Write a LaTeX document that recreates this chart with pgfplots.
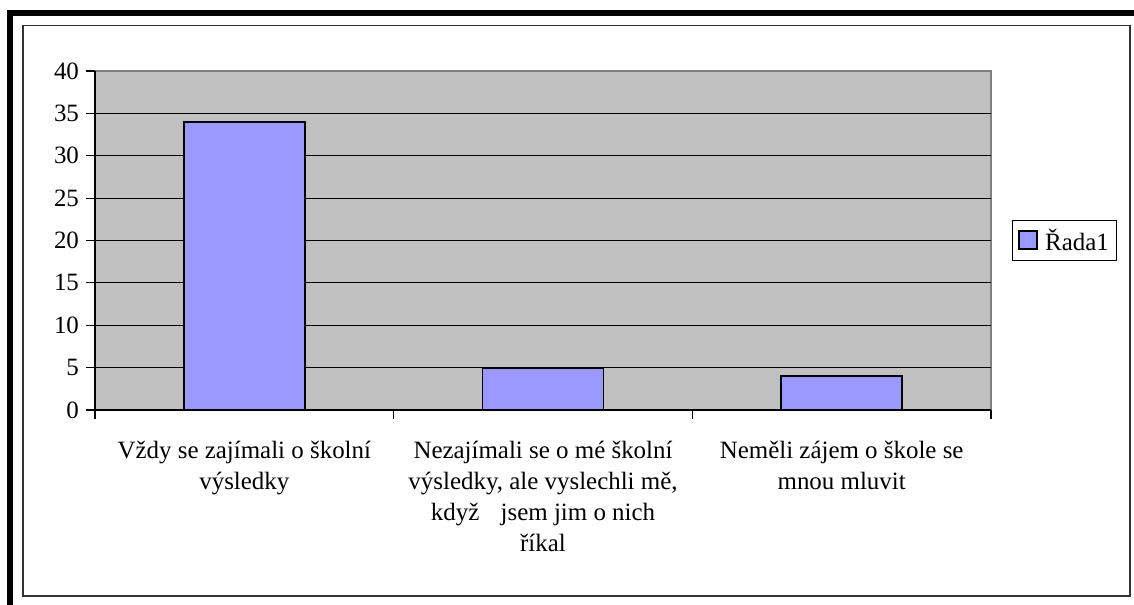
\documentclass[border=0pt]{standalone}
\usepackage{pgfplots}
\pgfplotsset{compat=1.18}
\usepackage{fontspec}
\setmainfont{Liberation Serif}
\definecolor{plotgray}{HTML}{C0C0C0}
\definecolor{barblue}{HTML}{9999FF}
\definecolor{bordergray}{HTML}{808080}
\begin{document}
\begin{tikzpicture}[x=1pt,y=1pt]
\useasboundingbox (0,0) rectangle (850.5,453.75);
\fill[white] (0,0) rectangle (850.5,453.75);
% outer heavy frame
\fill[black] (5.25,441.75) rectangle (850.5,446.25);
\fill[black] (5.25,0) rectangle (9.75,446.25);
% inner frame
\draw[black!80, line width=0.9pt] (17.25,6.75) rectangle (847.5,434.6);
\begin{axis}[
  at={(71.25pt,146.25pt)}, anchor=south west,
  scale only axis,
  width=672pt, height=254.25pt,
  xmin=0, xmax=3, ymin=0, ymax=40,
  axis background/.style={fill=plotgray, draw=bordergray, line width=1.3pt},
  axis x line=bottom, axis y line=left,
  axis line style={-, black, line width=0.8pt},
  ytick={5,10,...,35},
  extra y ticks={0,40},
  extra y tick style={grid=none},
  ymajorgrids,
  major grid style={black, line width=0.6pt},
  xtick={0,1,2,3},
  xticklabels={},
  extra x ticks={0.5,1.5,2.5},
  extra x tick style={major tick length=0pt, grid=none},
  extra x tick labels={
    {Vždy se zajímali o školní\\výsledky},
    {Nezajímali se o mé školní\\výsledky, ale vyslechli mě,\\když\hspace{16pt}jsem jim o nich\\říkal},
    {Neměli zájem o škole se\\mnou mluvit}},
  tick align=outside,
  major tick length=6.5pt,
  tick style={black, line width=0.8pt},
  xtick pos=bottom, ytick pos=left,
  /pgf/number format/assume math mode=true,
  yticklabel style={font=\fontsize{18.7pt}{22pt}\selectfont, xshift=-2pt},
  xticklabel style={font=\fontsize{18.7pt}{23.25pt}\selectfont, align=center, yshift=-20pt},
  ybar, bar width=90.75pt,
  legend style={at={(1.0234,0.5)}, anchor=west, draw=black, line width=0.8pt,
    font=\fontsize{18.7pt}{22pt}\selectfont, inner xsep=4pt, inner ysep=4.5pt},
  legend image code/.code={\draw[fill=barblue, draw=black, line width=1.5pt] (0pt,-6.75pt) rectangle (13.5pt,6.75pt);},
]
\addplot[fill=barblue, draw=black, line width=1.4pt] coordinates {(0.5,34) (1.5,5) (2.5,4)};
\addlegendentry{\hspace{3.5pt}Řada1\hspace{4pt}}
\end{axis}
\end{tikzpicture}
\end{document}
